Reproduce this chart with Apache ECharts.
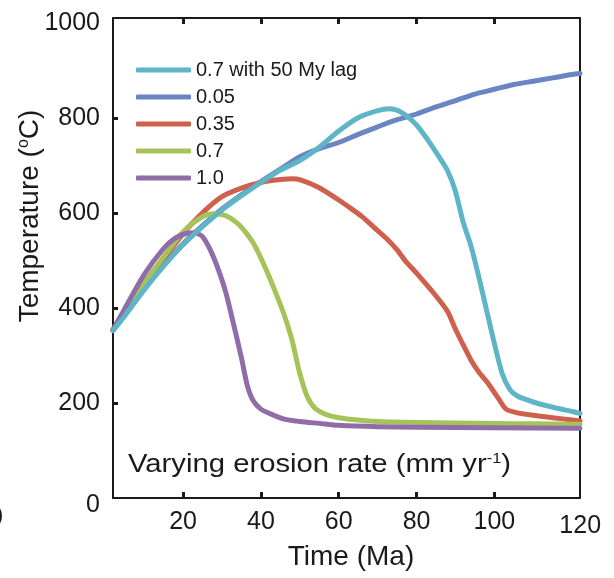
<!DOCTYPE html>
<html>
<head>
<meta charset="utf-8">
<script src="https://cdn.jsdelivr.net/npm/echarts@6/dist/echarts.min.js"></script>
<style>
  html, body { margin: 0; padding: 0; background: #ffffff; }
  #chart { width: 614px; height: 578px; }
</style>
</head>
<body>
<div id="chart"></div>
<script>
// Peak temperature paths for different erosion rates (mm/yr)
const legendNames = ['0.7 with 50 My lag', '0.05', '0.35', '0.7', '1.0'];

// 0.05 mm/yr
const timeSlow = [2, 5, 10, 15, 20, 25, 30, 35, 40, 45, 50, 55, 60, 65, 70, 75, 80, 85, 90, 95, 100, 105, 110, 115, 120, 122];
const tempSlow = [354, 385, 440, 490, 535, 573, 608, 638, 666, 692, 718, 735, 748, 765, 781, 796, 808, 823, 836, 850, 860, 870, 877, 884, 891, 893];

// 0.35 mm/yr
const timeMid = [2, 5, 10, 15, 20, 25, 30, 35, 40, 45, 48, 50, 55, 60, 63, 66, 69, 72, 75, 77, 80, 85, 88, 90, 92, 94, 96, 98, 99, 101, 103, 106, 110, 115, 120, 122];
const tempMid = [354, 390, 448, 503, 556, 600, 634, 652, 664, 670, 672, 670, 653, 627, 610, 592, 570, 548, 522, 500, 473, 425, 392, 355, 322, 290, 265, 245, 234, 210, 187, 179, 174, 169, 164, 162];

// 0.7 mm/yr
const timeFast = [2, 5, 10, 15, 20, 25, 28, 31, 34, 36, 38, 40, 42, 44, 46, 48, 50, 52, 54, 57, 60, 65, 70, 80, 90, 100, 110, 122];
const tempFast = [354, 392, 452, 507, 560, 592, 598, 594, 578, 560, 537, 505, 468, 428, 385, 332, 262, 212, 188, 175, 169, 164, 161, 159, 158, 157, 156, 155];

// 1.0 mm/yr
const timeFastest = [2, 5, 10, 15, 18, 21, 23, 25, 27, 29, 31, 33, 35, 36.5, 38, 40, 42.5, 46, 50, 55, 60, 70, 80, 100, 122];
const tempFastest = [354, 398, 470, 525, 547, 557, 558, 550, 522, 482, 432, 365, 295, 237, 205, 187, 177, 166, 161, 157, 153, 150, 149, 148, 147];

// 0.7 mm/yr starting after a 50 My lag
const timeLag = [2, 5, 10, 15, 20, 25, 30, 35, 40, 45, 50, 55, 60, 65, 70, 73, 76, 80, 83, 86, 88, 90, 92, 94, 96, 98, 100, 102, 104, 106, 110, 115, 120, 122];
const tempLag = [352, 383, 438, 488, 533, 571, 606, 636, 664, 690, 710, 738, 772, 800, 815, 819, 812, 785, 752, 715, 688, 645, 580, 530, 465, 395, 325, 262, 228, 214, 202, 191, 182, 178];

const xTickValues = [20, 40, 60, 80, 100];
const xLabelValues = [20, 40, 60, 80, 100, 120];
const yTickValues = [200, 400, 600, 800];
const yLabelValues = [0, 200, 400, 600, 800, 1000];

const colors = {
  lag: '#5db5c6',
  slow: '#6a86c2',
  mid: '#d0604e',
  fast: '#a6c35a',
  fastest: '#906ca8'
};

const ink = '#1a1a1a';
const fontFamily = 'Liberation Sans, Arial, sans-serif';

function pairs(xs, ys) {
  return xs.map((x, i) => [x, ys[i]]);
}

function lineSeries(name, xs, ys, color) {
  return {
    name: name,
    type: 'line',
    data: pairs(xs, ys),
    showSymbol: false,
    symbol: 'none',
    smooth: 0.25,
    color: color,
    lineStyle: { color: color, width: 5, cap: 'round', join: 'round' },
    emphasis: { disabled: true }
  };
}

const axisLineStyle = { color: ink, width: 2 };
const tickStyle = { color: ink, width: 3 };

const chart = echarts.init(document.getElementById('chart'), null, { renderer: 'canvas' });

chart.setOption({
  animation: false,
  backgroundColor: '#ffffff',
  grid: { left: 113, right: 34, top: 18, bottom: 80, containLabel: false },
  legend: {
    orient: 'vertical',
    left: 131,
    top: 55,
    itemWidth: 55,
    itemHeight: 5,
    itemGap: 7,
    icon: 'roundRect',
    data: legendNames,
    selectedMode: false,
    textStyle: { fontFamily: fontFamily, fontSize: 20, color: ink, lineHeight: 20 }
  },
  xAxis: [
    {
      type: 'value',
      position: 'bottom',
      min: 2,
      max: 122,
      axisLine: { show: true, onZero: false, lineStyle: axisLineStyle },
      axisTick: { show: true, inside: true, length: 6, lineStyle: tickStyle, customValues: xTickValues },
      axisLabel: {
        customValues: xLabelValues,
        margin: 12,
        color: ink,
        fontFamily: fontFamily,
        fontSize: 25,
        formatter: v => (v === 120 ? '{edge|120}' : String(v)),
        rich: { edge: { fontFamily: fontFamily, fontSize: 25, color: ink, padding: [4, 0, 0, 16] } }
      },
      splitLine: { show: false }
    },
    {
      type: 'value',
      position: 'top',
      min: 2,
      max: 122,
      axisLine: { show: true, onZero: false, lineStyle: axisLineStyle },
      axisTick: { show: true, inside: true, length: 6, lineStyle: tickStyle, customValues: xTickValues },
      axisLabel: { show: false },
      splitLine: { show: false }
    }
  ],
  yAxis: [
    {
      type: 'value',
      position: 'left',
      min: 0,
      max: 1010,
      axisLine: { show: true, onZero: false, lineStyle: axisLineStyle },
      axisTick: { show: true, inside: true, length: 5, lineStyle: tickStyle, customValues: yTickValues },
      axisLabel: {
        customValues: yLabelValues,
        margin: 13,
        color: ink,
        fontFamily: fontFamily,
        fontSize: 25,
        formatter: v => (v === 0 ? '{base|0}' : String(v)),
        rich: { base: { fontFamily: fontFamily, fontSize: 25, color: ink, padding: [14, 0, 0, 0] } }
      },
      splitLine: { show: false }
    },
    {
      type: 'value',
      position: 'right',
      min: 0,
      max: 1010,
      axisLine: { show: true, onZero: false, lineStyle: axisLineStyle },
      axisTick: { show: false },
      axisLabel: { show: false },
      splitLine: { show: false }
    }
  ],
  series: [
    lineSeries('0.05', timeSlow, tempSlow, colors.slow),
    lineSeries('0.35', timeMid, tempMid, colors.mid),
    lineSeries('0.7', timeFast, tempFast, colors.fast),
    lineSeries('1.0', timeFastest, tempFastest, colors.fastest),
    lineSeries('0.7 with 50 My lag', timeLag, tempLag, colors.lag)
  ],
  graphic: [
    {
      type: 'text',
      x: 30,
      y: 216,
      rotation: Math.PI / 2,
      silent: true,
      style: {
        text: 'Temperature ({sup|o}C)',
        fontFamily: fontFamily,
        fontSize: 28,
        fill: ink,
        align: 'center',
        verticalAlign: 'middle',
        rich: {
          sup: { fontFamily: fontFamily, fontSize: 16, fill: ink, padding: [0, 0, 12, 0] }
        }
      }
    },
    {
      type: 'text',
      x: 351,
      y: 557,
      silent: true,
      style: {
        text: 'Time (Ma)',
        fontFamily: fontFamily,
        fontSize: 28,
        fill: ink,
        align: 'center',
        verticalAlign: 'middle'
      }
    },
    {
      type: 'text',
      x: 128,
      y: 465,
      scaleX: 1.17,
      silent: true,
      style: {
        text: 'Varying erosion rate (mm yr{sup|-1})',
        fontFamily: fontFamily,
        fontSize: 25,
        fill: ink,
        align: 'left',
        verticalAlign: 'middle',
        rich: {
          sup: { fontFamily: fontFamily, fontSize: 14, fill: ink, padding: [0, 0, 12, 0] }
        }
      }
    },
    {
      type: 'text',
      x: 3,
      y: 518,
      silent: true,
      style: {
        text: '0',
        fontFamily: fontFamily,
        fontSize: 25,
        fill: ink,
        align: 'right',
        verticalAlign: 'middle'
      }
    }
  ]
});
</script>
</body>
</html>
